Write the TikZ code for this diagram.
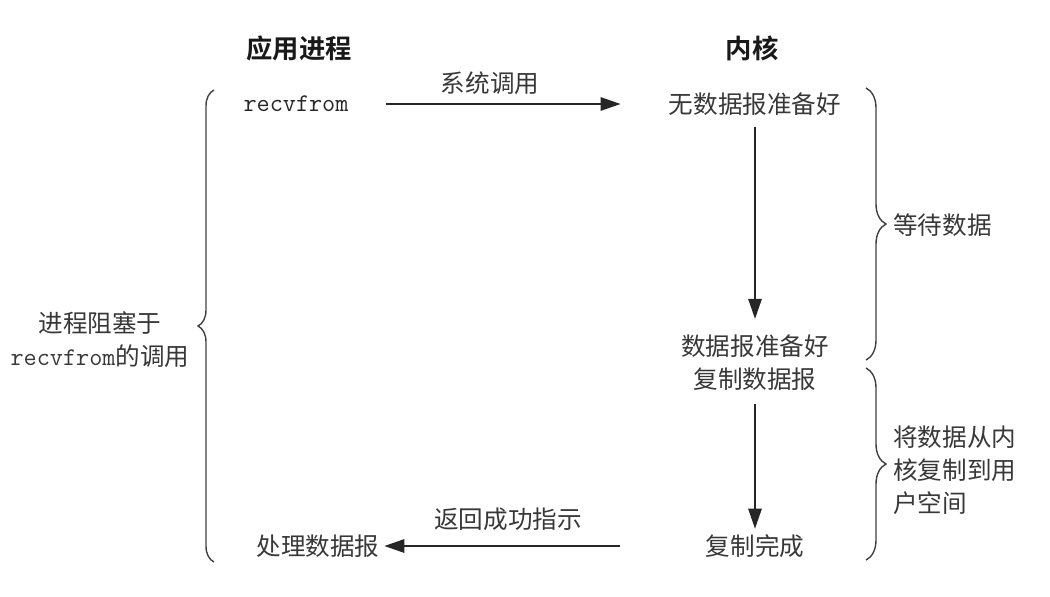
\documentclass[tikz,border=0pt]{standalone}
\usepackage{fontspec}
\setmainfont{Noto Sans CJK SC}[BoldFont=Noto Sans CJK SC Bold]
\usetikzlibrary{arrows.meta}
\usetikzlibrary{decorations.pathreplacing}
\tikzset{
txt/.style={inner sep=0pt, text=black!78, font=\fontsize{14pt}{18.7pt}\selectfont},
head/.style={inner sep=0pt, text=black!90, font=\fontsize{15pt}{18pt}\selectfont\bfseries},
code/.style={inner sep=0pt, text=black!85, font=\fontsize{14.5pt}{15pt}\selectfont\ttfamily},
flow/.style={-{Triangle[length=0.4cm,width=0.27cm]}, line width=0.8pt, black!85},
bracket/.style={decorate, decoration={brace, amplitude=#1}, line width=0.8pt, black!75},
}

\begin{document}
\begin{tikzpicture}[x=0.02cm, y=-0.02cm]
            \useasboundingbox (0,0) rectangle (1050,596);
            % headers
            \node[head] (app) at (299,48) {应用进程};
            \node[head] (kernel) at (752,48) {内核};
            % process side
            \node[code] (recv) at (296,104) {recvfrom};
            \node[txt] (handle) at (318,546) {处理数据报};
            % kernel side
            \node[txt] (nodata) at (755,104) {无数据报准备好};
            \node[txt, align=center] (ready) at (755,363) {数据报准备好\\复制数据报};
            \node[txt] (done) at (755,546) {复制完成};
            % arrow labels
            \node[txt] (syscall) at (490,83) {系统调用};
            \node[txt] (retok) at (508,519) {返回成功指示};
            % arrows
            \draw[flow, shorten <=0.74cm, shorten >=0.96cm] (recv.east) -- (nodata.west);
            \draw[flow, shorten <=0.22cm, shorten >=0.32cm] (nodata.south) -- (ready.north);
            \draw[flow, shorten <=0.26cm, shorten >=0.11cm] (ready.south) -- (done.north);
            \draw[flow, shorten <=1.7cm, shorten >=0.09cm] (done.west) -- (handle.east);
            % braces
            \draw[bracket=0.32cm] (214,562) -- (214,90);
            \draw[bracket=0.4cm] (866,88) -- (866,360);
            \draw[bracket=0.4cm] (866,368) -- (866,560);
            \node[txt, align=center] (block) at (100,340) {进程阻塞于\\{\ttfamily\fontsize{14.5pt}{15pt}\selectfont recvfrom}的调用};
            \node[txt, anchor=west] (wait) at (893,225) {等待数据};
            \node[txt, anchor=west, align=left] (copy) at (893,470) {将数据从内\\核复制到用\\户空间};
        \end{tikzpicture}
\end{document}
